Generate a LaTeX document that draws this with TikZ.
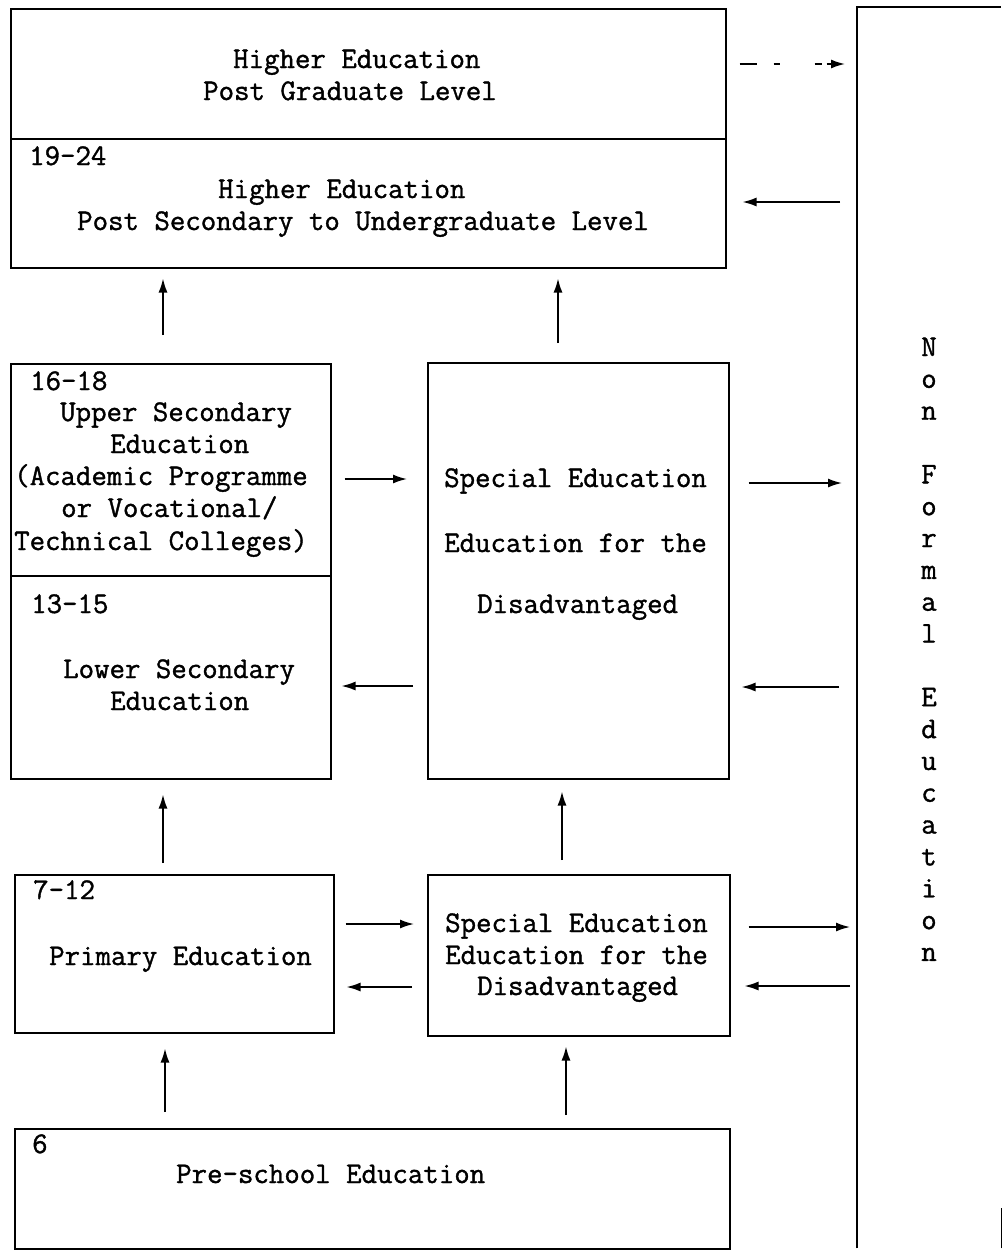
\documentclass[tikz,border=0pt]{standalone}
\usepackage{fontspec}
\newfontfamily\twfont{Latin Modern Mono}[BoldFont={Latin Modern Mono}, BoldFeatures={FakeBold=1.2}]
\usetikzlibrary{arrows.meta}
\begin{document}
\begin{tikzpicture}[x=1pt,y=-1pt,
  box/.style={draw, line width=1.5pt, rectangle, inner sep=0pt, anchor=north west},
  txt/.style={inner sep=0pt, anchor=base west, font=\fontsize{30}{32}\selectfont\twfont\bfseries},
  ltr/.style={inner sep=0pt, anchor=base, font=\fontsize{30}{32}\selectfont\twfont\bfseries},
  arr/.style={line width=1.6pt, -{Latex[length=14pt,width=9pt]}},
  dpat/.style={dash pattern=on 17pt off 17pt on 6pt off 35pt on 7pt off 5pt on 60pt}
]
\useasboundingbox (0,0) rectangle (1002,1250);
\fill[white] (0,0) rectangle (1002,1250);

% boxes
\node[box, minimum width=715pt, minimum height=130pt] (pg) at (10,8) {};
\node[box, minimum width=715pt, minimum height=129pt] (ug) at (10,138) {};
\node[box, minimum width=320pt, minimum height=212pt] (us) at (10,363) {};
\node[box, minimum width=320pt, minimum height=203pt] (ls) at (10,575) {};
\node[box, minimum width=301pt, minimum height=416pt] (sp1) at (427,362) {};
\node[box, minimum width=319pt, minimum height=158pt] (pr) at (14,874) {};
\node[box, minimum width=302pt, minimum height=161pt] (sp2) at (427,874) {};
\node[box, minimum width=715pt, minimum height=120pt] (ps) at (14,1128) {};
\node[inner sep=0pt, minimum width=144pt, minimum height=1241pt, anchor=north west] (nfe) at (857,7) {};
\draw[line width=1.5pt] (nfe.south west) -- (nfe.north west) -- (nfe.north east);
\draw[line width=1.5pt] (nfe.south east) -- ++(0,-40);

% texts
\node[txt] (t1) at (233,68) {Higher Education};
\node[txt] (t2) at (203,100) {Post Graduate Level};
\node[txt] (t3) at (29,165) {19-24};
\node[txt] (t4) at (218,198) {Higher Education};
\node[txt] (t5) at (77,230) {Post Secondary to Undergraduate Level};
\node[txt] (t6) at (30,390) {16-18};
\node[txt] (t7) at (60,421) {Upper Secondary};
\node[txt] (t8) at (110,453) {Education};
\node[txt] (t9) at (14,485) {(Academic Programme};
\node[txt] (t10) at (61,517) {or Vocational/};
\node[txt] (t11) at (14,550) {Technical Colleges)};
\node[txt] (t12) at (31,613) {13-15};
\node[txt] (t13) at (63,678) {Lower Secondary};
\node[txt] (t14) at (110,710) {Education};
\node[txt] (t15) at (444,487) {Special Education};
\node[txt] (t16) at (444,552) {Education for the};
\node[txt] (t17) at (477,613) {Disadvantaged};
\node[txt] (t18) at (33,899) {7-12};
\node[txt] (t19) at (49,965) {Primary Education};
\node[txt] (t20) at (445,932) {Special Education};
\node[txt] (t21) at (445,964) {Education for the};
\node[txt] (t22) at (477,995) {Disadvantaged};
\node[txt] (t23) at (32,1153) {6};
\node[txt] (t24) at (176,1183) {Pre-school Education};
\foreach \c/\k in {N/0,o/1,n/2,F/4,o/5,r/6,m/7,a/8,l/9,E/11,d/12,u/13,c/14,a/15,t/16,i/17,o/18,n/19}
  \node[ltr] (nf\k) at (929,356+31.84*\k) {\c};

% coordinates for connector alignment
\coordinate (x1) at (163,0);
\coordinate (x2) at (558,0);
\coordinate (x3) at (163,0);
\coordinate (x4) at (562,0);
\coordinate (x5) at (165,0);
\coordinate (x6) at (566,0);
\coordinate (y1) at (0,64);
\coordinate (y2) at (0,202);
\coordinate (y3) at (0,479);
\coordinate (y4) at (0,686);
\coordinate (y5) at (0,483);
\coordinate (y6) at (0,687);
\coordinate (y7) at (0,924);
\coordinate (y8) at (0,987);
\coordinate (y9) at (0,927);
\coordinate (y10) at (0,986);

% vertical arrows
\draw[arr, shorten <=28pt, shorten >=10pt] (us.north -| x1) -- (ug.south -| x1);
\draw[arr, shorten <=19pt, shorten >=10pt] (sp1.north -| x2) -- (ug.south -| x2);
\draw[arr, shorten <=11pt, shorten >=15pt] (pr.north -| x3) -- (ls.south -| x3);
\draw[arr, shorten <=14pt, shorten >=12pt] (sp2.north -| x4) -- (sp1.south -| x4);
\draw[arr, shorten <=16pt, shorten >=15pt] (ps.north -| x5) -- (pr.south -| x5);
\draw[arr, shorten <=13pt, shorten >=10pt] (ps.north -| x6) -- (sp2.south -| x6);

% horizontal arrows
\draw[arr, dpat, shorten <=13pt, shorten >=12pt] (pg.east |- y1) -- (nfe.west |- y1);
\draw[arr, shorten <=17pt, shorten >=16pt] (nfe.west |- y2) -- (ug.east |- y2);
\draw[arr, shorten <=13pt, shorten >=20pt] (us.east |- y3) -- (sp1.west |- y3);
\draw[arr, shorten <=14pt, shorten >=10pt] (sp1.west |- y4) -- (ls.east |- y4);
\draw[arr, shorten <=19pt, shorten >=15pt] (sp1.east |- y5) -- (nfe.west |- y5);
\draw[arr, shorten <=18pt, shorten >=12pt] (nfe.west |- y6) -- (sp1.east |- y6);
\draw[arr, shorten <=11pt, shorten >=13pt] (pr.east |- y7) -- (sp2.west |- y7);
\draw[arr, shorten <=15pt, shorten >=12pt] (sp2.west |- y8) -- (pr.east |- y8);
\draw[arr, shorten <=18pt, shorten >=7pt] (sp2.east |- y9) -- (nfe.west |- y9);
\draw[arr, shorten <=7pt, shorten >=14pt] (nfe.west |- y10) -- (sp2.east |- y10);
\end{tikzpicture}
\end{document}
